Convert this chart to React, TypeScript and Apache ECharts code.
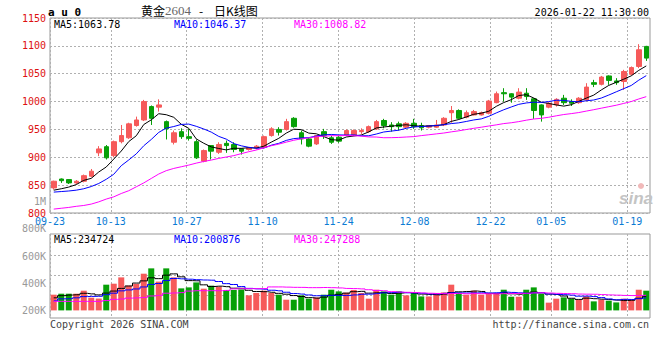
import React, { useEffect, useRef } from 'react';
import * as echarts from 'echarts';

// ---- data ----
const dates = [
  '09-23', '09-24', '09-25', '09-26', '09-29', '09-30',
  '10-09', '10-10', '10-13', '10-14', '10-15', '10-16', '10-17', '10-20', '10-21', '10-22', '10-23', '10-24',
  '10-27', '10-28', '10-29', '10-30', '10-31',
  '11-03', '11-04', '11-05', '11-06', '11-07', '11-10', '11-11', '11-12', '11-13', '11-14',
  '11-17', '11-18', '11-19', '11-20', '11-21', '11-24', '11-25', '11-26', '11-27', '11-28',
  '12-01', '12-02', '12-03', '12-04', '12-05', '12-08', '12-09', '12-10', '12-11', '12-12',
  '12-15', '12-16', '12-17', '12-18', '12-19', '12-22', '12-23', '12-24', '12-25', '12-26',
  '12-29', '12-30', '12-31',
  '01-05', '01-06', '01-07', '01-08', '01-09', '01-12', '01-13', '01-14', '01-15', '01-16',
  '01-19', '01-20', '01-21', '01-22',
];
const labelDates = ['09-23', '10-13', '10-27', '11-10', '11-24', '12-08', '12-22', '01-05', '01-19'];

const opens = [
  845, 861, 860, 854, 857, 866, 908, 919, 903, 928,
  935, 957, 967, 991, 990, 964, 927, 946, 937, 928,
  893, 921, 909, 925, 923, 915, 914, 917, 918, 939,
  950, 950, 970, 944, 933, 924, 946, 935, 936, 940,
  940, 946, 946, 951, 966, 958, 960, 954, 961, 957,
  954, 954, 958, 980, 984, 972, 976, 976, 979, 998,
  1016, 1014, 1006, 1015, 1005, 994, 990, 994, 1006, 1000,
  998, 1003, 1034, 1031, 1046, 1037, 1036, 1049, 1063, 1099,
];
const closes = [
  857, 858, 854, 857, 867, 875, 915, 899, 928, 939,
  960, 967, 1000, 970, 994, 951, 944, 937, 934, 899,
  912, 911, 923, 921, 914, 911, 917, 920, 937, 951,
  945, 964, 955, 933, 920, 939, 939, 927, 929, 948,
  948, 948, 955, 964, 957, 955, 955, 961, 955, 953,
  957, 958, 970, 984, 970, 980, 982, 980, 1001, 1014,
  1014, 1008, 1017, 1009, 984, 976, 997, 1004, 998, 997,
  1006, 1026, 1031, 1044, 1038, 1034, 1054, 1061, 1093, 1078,
];
const lows = [
  842, 854, 852, 852, 855, 864, 902, 896, 900, 925,
  933, 955, 965, 958, 982, 932, 923, 933, 930, 897,
  891, 896, 906, 908, 909, 905, 912, 914, 916, 937,
  939, 948, 953, 923, 918, 922, 933, 924, 926, 938,
  938, 942, 944, 949, 952, 946, 948, 952, 951, 948,
  952, 953, 956, 962, 968, 970, 975, 975, 977, 997,
  1000, 998, 1004, 1003, 969, 964, 988, 991, 994, 992,
  996, 1001, 1026, 1029, 1030, 1030, 1021, 1047, 1060, 1073,
];
const highs = [
  858, 862, 861, 859, 869, 879, 920, 922, 930, 958,
  962, 973, 1003, 993, 1004, 966, 948, 952, 951, 932,
  914, 922, 927, 930, 927, 916, 918, 922, 939, 954,
  954, 969, 972, 948, 935, 940, 951, 939, 938, 950,
  950, 952, 957, 967, 969, 963, 964, 963, 969, 962,
  958, 967, 972, 992, 986, 984, 985, 982, 1003, 1018,
  1024, 1015, 1024, 1024, 1006, 995, 999, 1006, 1012, 1004,
  1008, 1033, 1039, 1046, 1047, 1042, 1057, 1063, 1103, 1100,
];
const volumes = [
  256000, 272000, 272000, 272000, 321000, 207000, 193000, 419000, 435000, 538000,
  403000, 432000, 598000, 685000, 469000, 685000, 538000, 359000, 375000, 456000,
  354000, 403000, 386000, 333000, 333000, 342000, 245000, 284000, 321000, 284000,
  256000, 174000, 174000, 245000, 191000, 212000, 256000, 337000, 310000, 289000,
  333000, 284000, 191000, 337000, 310000, 256000, 310000, 245000, 289000, 228000,
  228000, 284000, 293000, 419000, 289000, 256000, 321000, 256000, 267000, 267000,
  337000, 223000, 223000, 337000, 375000, 267000, 126000, 191000, 212000, 191000,
  174000, 228000, 147000, 174000, 158000, 130000, 191000, 174000, 337000, 321000,
];

// moving-average values before the window is complete
const ma5Head = [841, 843.5, 846.5, 851];
const ma10Head = [837.5, 838.5, 839.5, 841, 843.5, 847.5, 853, 860.5, 869.5];
const ma30Head = [
  807, 808.5, 810, 812, 813.5, 816, 820, 825, 829, 835, 840, 847, 854, 862, 870,
  876, 880, 883, 886, 889.5, 892.5, 895, 898, 900.5, 903, 906.5, 910, 913, 917,
];
const volMa5Head = [205000, 240000, 250000, 255000];
const volMa10Head = [155000, 188000, 190000, 205000, 225000, 228000, 230000, 256000, 280000];
const volMa30Head = [
  147000, 147000, 147000, 147000, 147000, 147000, 147000, 160000, 180000, 186000,
  200000, 205000, 212000, 235000, 245000, 280000, 284000, 290000, 315000, 321000,
  321000, 321000, 321000, 325000, 350000, 354000, 354000, 354000, 356000,
];

const priceAxis = { min: 800, max: 1150, step: 50 };
const volLabelAxis = { min: 200000, max: 1000000, step: 200000 };
const priceLegend = ['MA5:1063.78', 'MA10:1046.37', 'MA30:1008.82'];
const volLegend = ['MA5:234724', 'MA10:200876', 'MA30:247288'];
const maColors = ['#000000', '#0000ff', '#ff00ff'];

const UP = '#f65a5a';
const DOWN = '#07a007';
const MONO = '"DejaVu Sans Mono", monospace';

function movingAverage(values: number[], n: number, head: number[]) {
  return values.map((_, i) => {
    if (i < n - 1) return head[i];
    let s = 0;
    for (let k = i - n + 1; k <= i; k++) s += values[k];
    return Math.round((s / n) * 100) / 100;
  });
}

function buildOption() {
  const showDate = (_i: number, v: string) => labelDates.includes(v);
  const dotted = { color: '#b0b0b0', width: 1, type: [2, 2] as number[] };
  const candles = dates.map((_, i) => [opens[i], closes[i], lows[i], highs[i]]);
  const volData = volumes.map((v, i) => ({
    value: v,
    itemStyle: { color: closes[i] >= opens[i] ? UP : DOWN },
  }));
  const pMa = [
    movingAverage(closes, 5, ma5Head),
    movingAverage(closes, 10, ma10Head),
    movingAverage(closes, 30, ma30Head),
  ];
  const vMa = [
    movingAverage(volumes, 5, volMa5Head),
    movingAverage(volumes, 10, volMa10Head),
    movingAverage(volumes, 30, volMa30Head),
  ];
  const txt = (text: string, x: number, y: number, fill: string, font: string, align = 'left') => ({
    type: 'text',
    x,
    y,
    z: 100,
    style: {
      text,
      fill,
      font,
      align,
      textAlign: align,
      verticalAlign: 'middle',
      textVerticalAlign: 'middle',
    },
  });
  const legendX = [54, 174, 294];

  return {
    animation: false,
    backgroundColor: '#ffffff',
    grid: [
      { left: 50, top: 18, width: 600, height: 195, show: true, borderColor: '#999999', borderWidth: 1, backgroundColor: 'transparent' },
      { left: 50, top: 234, width: 600, height: 84, show: true, borderColor: '#999999', borderWidth: 1, backgroundColor: 'transparent' },
      { left: 50, top: 255.7, width: 600, height: 40, show: false },
      { left: 50, top: 201.5, width: 600, height: 109, show: false },
    ],
    xAxis: [
      { type: 'category', gridIndex: 0, data: dates, boundaryGap: true, show: false, position: 'top' },
      {
        type: 'category', gridIndex: 0, data: dates, boundaryGap: false, position: 'bottom',
        axisLine: { show: false }, axisTick: { show: false },
        axisLabel: { interval: showDate, color: '#0b7bd4', fontFamily: MONO, fontSize: 10, lineHeight: 9, margin: 4 },
        splitLine: { show: true, interval: showDate, lineStyle: dotted },
      },
      { type: 'category', gridIndex: 1, data: dates, boundaryGap: true, show: false, position: 'top' },
      {
        type: 'category', gridIndex: 1, data: dates, boundaryGap: false, position: 'bottom',
        axisLine: { show: false }, axisTick: { show: false }, axisLabel: { show: false },
        splitLine: { show: true, interval: showDate, lineStyle: dotted },
      },
      { type: 'value', gridIndex: 2, show: false, min: 0, max: 1 },
      { type: 'value', gridIndex: 3, show: false, min: 0, max: 1 },
    ],
    yAxis: [
      {
        type: 'value', gridIndex: 0, min: priceAxis.min, max: priceAxis.max, interval: priceAxis.step,
        axisLine: { show: false }, axisTick: { show: false },
        axisLabel: {
          color: '#dd1111', fontFamily: MONO, fontSize: 10, lineHeight: 9, margin: 4, padding: [0, 0, 3, 0],
          formatter: (v: number) => String(v),
        },
        splitLine: { show: true, lineStyle: dotted },
      },
      { type: 'value', gridIndex: 1, min: -124000, max: 1245000, show: false },
      {
        type: 'value', gridIndex: 2, min: 0, max: 40, interval: 20,
        axisLine: { show: false }, axisTick: { show: false }, axisLabel: { show: false },
        splitLine: { show: true, lineStyle: dotted },
      },
      {
        type: 'value', gridIndex: 3, min: volLabelAxis.min, max: volLabelAxis.max, interval: volLabelAxis.step,
        axisLine: { show: false }, axisTick: { show: false }, splitLine: { show: false },
        axisLabel: {
          color: '#999999', fontFamily: MONO, fontSize: 10, lineHeight: 9, margin: 4,
          formatter: (v: number) => (v >= 1000000 ? v / 1000000 + 'M' : v / 1000 + 'K'),
        },
      },
    ],
    series: [
      {
        type: 'candlestick', xAxisIndex: 0, yAxisIndex: 0, data: candles, barWidth: 5,
        itemStyle: { color: UP, color0: DOWN, borderColor: UP, borderColor0: DOWN, borderWidth: 1 },
      },
      ...pMa.map((d, k) => ({
        type: 'line', xAxisIndex: 0, yAxisIndex: 0, data: d, symbol: 'none', showSymbol: false,
        lineStyle: { color: maColors[k], width: 1 }, z: 3,
      })),
      { type: 'bar', xAxisIndex: 2, yAxisIndex: 1, data: volData, barWidth: 6 },
      ...vMa.map((d, k) => ({
        type: 'line', xAxisIndex: 2, yAxisIndex: 1, data: d, symbol: 'none', showSymbol: false, step: 'middle',
        lineStyle: { color: maColors[k], width: 1 }, z: 3,
      })),
    ],
    graphic: [
      txt('a u 0', 48, 12, '#000000', 'bold 11px "DejaVu Sans Mono"'),
      {
        type: 'text', x: 141, y: 10, z: 100,
        style: {
          text: '{a|黄金}{b|2604}{a|\u00a0\u00a0\u00a0-\u00a0\u00a0\u00a0\u00a0日K线图}',
          verticalAlign: 'middle', textVerticalAlign: 'middle',
          rich: {
            a: { font: '12px "Noto Sans CJK SC"', fill: '#000000', color: '#000000' },
            b: { font: '13px "Liberation Serif"', fill: '#666666', color: '#666666' },
          },
        },
      },
      txt('2026-01-22 11:30:00', 649, 12, '#000000', '10px "DejaVu Sans Mono"', 'right'),
      ...priceLegend.map((t, k) => txt(t, legendX[k], 24, maColors[k], '10px "DejaVu Sans Mono"')),
      ...volLegend.map((t, k) => txt(t, legendX[k], 239, maColors[k], '10px "DejaVu Sans Mono"')),
      txt('Copyright 2026 SINA.COM', 50, 324, '#444444', '10px "DejaVu Sans Mono"'),
      txt('http://finance.sina.com.cn', 649, 324, '#444444', '10px "DejaVu Sans Mono"', 'right'),
      txt('sina', 619, 198, '#c4c4c4', 'italic bold 17px "Liberation Sans"'),
      { type: 'circle', z: 100, shape: { cx: 641, cy: 186, r: 3 }, style: { fill: '#f1b9b9' } },
    ],
  };
}

export default function App() {
  const ref = useRef<HTMLDivElement>(null);
  useEffect(() => {
    const chart = echarts.init(ref.current as HTMLDivElement, null, { renderer: 'svg' });
    chart.setOption(buildOption() as any);
    return () => chart.dispose();
  }, []);
  return (
    <div
      ref={ref}
      style={{ width: 660, height: 360, position: 'absolute', left: 0, top: 0, background: '#fff' }}
    />
  );
}
